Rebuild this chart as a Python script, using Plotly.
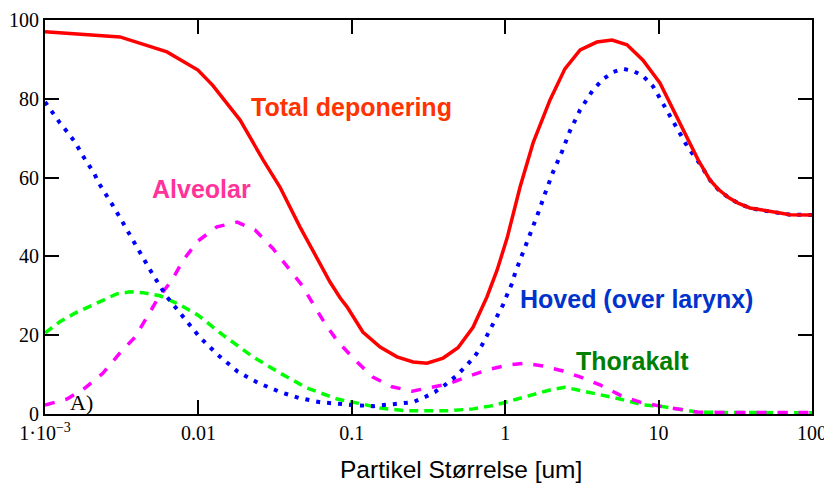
import plotly.graph_objects as go

# Particle size (um) and deposition (%)
total_x = [0.001, 0.00152, 0.00308, 0.00624, 0.00993, 0.0124, 0.0187, 0.0264, 0.034, 0.0459,
           0.0721, 0.0838, 0.0931, 0.118, 0.153, 0.197, 0.251, 0.309, 0.394, 0.492,
           0.617, 0.76, 0.885, 1.03, 1.25, 1.52, 1.96, 2.45, 3.08, 3.96, 4.97, 6.22,
           7.91, 10.2, 13.8, 18.1, 21.6, 24.4, 28.4, 33.0, 39.4, 45.8, 53.2, 61.8, 71.9, 100]
total_y = [97.0, 96.6, 95.7, 91.9, 87.3, 83.4, 74.6, 64.5, 57.6, 47.5,
           33.5, 29.5, 27.2, 20.8, 17.0, 14.5, 13.2, 12.9, 14.2, 16.8,
           22.0, 29.7, 36.5, 44.7, 57.6, 68.8, 79.7, 87.6, 92.4, 94.4, 94.9, 93.7,
           89.8, 84.0, 73.9, 64.5, 59.4, 57.1, 55.0, 53.5, 52.3, 51.8, 51.3, 51.0, 50.6, 50.5]

hoved_x = [0.001, 0.00111, 0.00125, 0.00141, 0.00159, 0.00172, 0.00191, 0.00209, 0.00225, 0.0025,
           0.00274, 0.00299, 0.00327, 0.00358, 0.00386, 0.00429, 0.00469, 0.00506, 0.00624, 0.00794,
           0.0102, 0.0134, 0.0181, 0.0245, 0.034, 0.0459, 0.0621, 0.1, 0.137, 0.186,
           0.251, 0.3, 0.348, 0.406, 0.478, 0.547, 0.635, 0.706, 0.773, 0.834,
           0.897, 0.968, 1.04, 1.11, 1.16, 1.23, 1.31, 1.45, 1.64, 1.82,
           2.05, 2.34, 2.64, 3.08, 3.73, 4.35, 5.05, 5.86, 6.81, 7.91,
           9.18, 11.0, 13.2, 15.6, 18.6, 21.6, 24.4, 28.4, 33.0, 39.4,
           45.8, 53.2, 61.8, 71.9, 100]
hoved_y = [79.2, 76.6, 73.9, 71.4, 68.7, 66.2, 63.6, 61.1, 58.5, 55.8,
           53.2, 50.7, 48.1, 45.4, 42.9, 40.1, 37.6, 35.3, 29.7, 24.6,
           19.5, 15.0, 10.7, 7.9, 5.6, 4.0, 3.0, 2.3, 2.0, 2.5,
           3.0, 4.3, 5.6, 7.4, 9.6, 11.9, 14.7, 17.5, 20.3, 22.6,
           25.1, 27.7, 30.7, 33.2, 35.8, 38.3, 40.9, 45.9, 51.0, 56.0,
           61.4, 66.5, 71.8, 77.2, 82.2, 85.0, 86.8, 87.6, 87.1, 85.8,
           83.2, 77.9, 72.6, 67.5, 63.5, 59.4, 57.0, 55.0, 53.5, 52.3,
           51.8, 51.3, 51.0, 50.6, 50.5]

alveolar_x = [0.001, 0.00139, 0.00182, 0.00239, 0.00308, 0.00386, 0.00469, 0.00546, 0.00673, 0.00794,
              0.00993, 0.0132, 0.0179, 0.0234, 0.0306, 0.0384, 0.0473, 0.0558, 0.0668, 0.0813,
              0.105, 0.137, 0.183, 0.247, 0.324, 0.424, 0.564, 0.76, 1.03, 1.35,
              1.76, 2.38, 3.08, 4.15, 5.6, 7.57, 10.2, 13.2, 17.8, 25.1, 100]
alveolar_y = [2.3, 3.8, 6.6, 10.4, 15.5, 19.5, 25.0, 29.4, 34.0, 39.0,
              43.9, 47.5, 48.7, 46.7, 42.0, 37.3, 32.7, 28.0, 23.0, 18.3,
              13.7, 9.4, 6.9, 5.8, 6.6, 7.6, 9.4, 11.2, 12.4, 12.9,
              12.2, 10.9, 9.4, 7.4, 4.8, 3.0, 2.0, 1.3, 0.5, 0.4, 0.4]

thorax_x = [0.001, 0.00125, 0.00157, 0.00191, 0.00235, 0.00294, 0.00358, 0.00435, 0.00562, 0.00759,
            0.00993, 0.0145, 0.0227, 0.034, 0.0511, 0.0802, 0.118, 0.153, 0.229, 0.418,
            0.617, 0.796, 0.968, 1.45, 1.96, 2.45, 3.21, 4.15, 5.6, 7.91,
            10.2, 13.2, 17.8, 25.1, 100]
thorax_y = [20.6, 23.4, 25.6, 27.2, 28.9, 30.5, 31.0, 30.8, 30.0, 27.7,
            25.1, 20.0, 14.5, 10.4, 6.6, 3.8, 2.5, 1.5, 0.8, 0.8,
            1.3, 2.0, 2.8, 4.8, 6.1, 6.8, 5.8, 5.0, 3.8, 2.3,
            2.0, 1.3, 0.5, 0.4, 0.3]

x_tickvals = [0.001, 0.01, 0.1, 1, 10, 100]
x_ticktext = ["1\u00b710<sup>\u22123</sup>", "0.01", "0.1", "1", "10", "100"]
y_tickvals = [0, 20, 40, 60, 80, 100]

fig = go.Figure()
fig.add_trace(go.Scatter(x=thorax_x, y=thorax_y, mode="lines", name="Thorakalt",
                         line=dict(color="#00FF00", width=3.5, dash="9px,6px")))
fig.add_trace(go.Scatter(x=alveolar_x, y=alveolar_y, mode="lines", name="Alveolar",
                         line=dict(color="#FF00FF", width=3.5, dash="10px,11px")))
fig.add_trace(go.Scatter(x=hoved_x, y=hoved_y, mode="lines", name="Hoved (over larynx)",
                         line=dict(color="#0000FF", width=4, dash="4px,7px")))
fig.add_trace(go.Scatter(x=total_x, y=total_y, mode="lines", name="Total deponering",
                         line=dict(color="#FF0000", width=3.5)))

lab_font = "Liberation Sans, Arial, sans-serif"
labels = [
    ("Total deponering", -1.0, 78.0, "#FF3300"),
    ("Alveolar", -1.977, 57.1, "#FF3399"),
    ("Hoved (over larynx)", 0.859, 29.3, "#0033CC"),
    ("Thorakalt", 0.827, 13.5, "#008000"),
]
for txt, lx, ly, col in labels:
    fig.add_annotation(x=lx, y=ly, xref="x", yref="y", text="<b>%s</b>" % txt,
                       showarrow=False, xanchor="center", yanchor="middle",
                       font=dict(family=lab_font, size=25, color=col))

fig.add_annotation(x=-2.759, y=3.0, xref="x", yref="y", text="A)", showarrow=False,
                   xanchor="center", yanchor="middle",
                   font=dict(family="Liberation Serif, Times New Roman, serif", size=22, color="black"))

fig.add_annotation(x=(461 - 45) / 767, y=-0.14, xref="paper", yref="paper",
                   text="Partikel Størrelse [um]", showarrow=False,
                   xanchor="center", yanchor="middle",
                   font=dict(family=lab_font, size=24.5, color="black"))

axis_common = dict(showline=True, linecolor="black", linewidth=2, mirror="allticks",
                   ticks="inside", ticklen=14, tickwidth=2, tickcolor="black",
                   showgrid=False, zeroline=False, automargin=False,
                   tickfont=dict(family="Liberation Serif, Times New Roman, serif", size=20, color="black"))

fig.update_xaxes(type="log", range=[-3, 2], tickvals=x_tickvals, ticktext=x_ticktext, **axis_common)
fig.update_yaxes(range=[0, 100], tickvals=y_tickvals, **axis_common)

# the page body adds an 8px offset, so the figure is sized to fit inside the window
fig.update_layout(width=824, height=475, margin=dict(l=37, r=20, t=12, b=69),
                  paper_bgcolor="white", plot_bgcolor="white", showlegend=False)

fig.write_html("out.html")
